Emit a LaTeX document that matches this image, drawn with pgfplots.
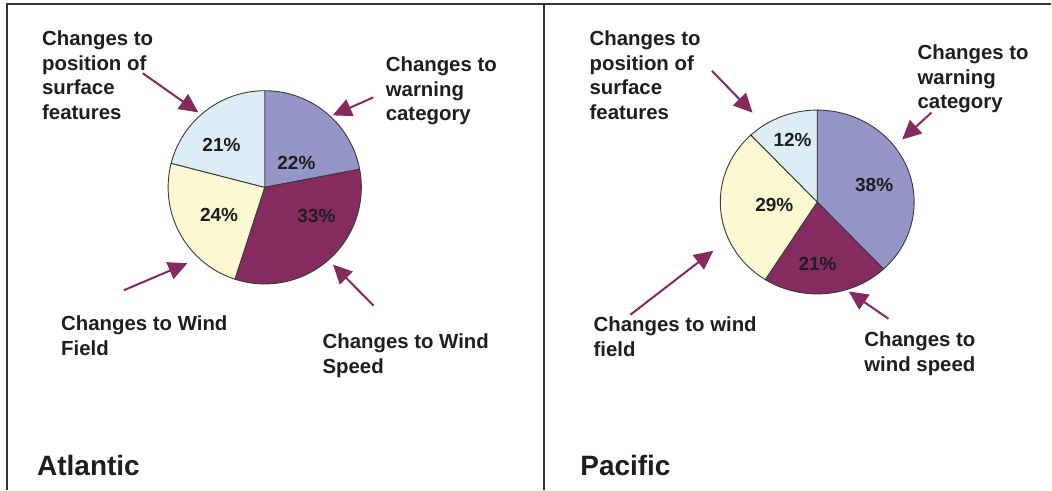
\documentclass[border=0pt]{standalone}
\usepackage{pgfplots}
\pgfplotsset{compat=1.18}
\usepackage{fontspec}
\setmainfont{Liberation Sans}
\usetikzlibrary{arrows.meta}
\definecolor{warn}{HTML}{9595C7}
\definecolor{speed}{HTML}{852B5F}
\definecolor{field}{HTML}{FBF8D2}
\definecolor{surf}{HTML}{DCEDF5}
\definecolor{arr}{HTML}{862A5E}
\definecolor{edge}{HTML}{3A3A3A}
\definecolor{txt}{HTML}{1E1E1E}
\definecolor{frame}{HTML}{333333}
% slice: cx cy rx ry from(%) to(%) colour  -- angles clockwise from 12 o'clock
\newcommand{\slice}[7]{%
  \addplot[fill=#7, draw=edge, line width=0.9pt, domain=3.6*#5:3.6*#6, samples=90, variable=\t]
    ({#1+#3*sin(\t)},{#2-#4*cos(\t)}) -- (axis cs:#1,#2) -- cycle;}
\newcommand{\lab}{\fontsize{20.4}{24.5}\selectfont\bfseries\color{txt}}
\newcommand{\pct}{\fontsize{19}{22}\selectfont\bfseries\color{txt}}
\newcommand{\ttl}{\fontsize{28}{32}\selectfont\bfseries\color{txt}}
\tikzset{arw/.style={draw=arr, line width=2pt, -{Triangle[length=19pt,width=18pt]}}}
\begin{document}
\begin{tikzpicture}
\begin{axis}[width=1052pt, height=490pt, scale only axis,
  xmin=0, xmax=1052, ymin=0, ymax=490, y dir=reverse,
  hide axis, clip=false]
\path (axis cs:0,0) rectangle (axis cs:1052,490);
% frame
\draw[frame, line width=2pt] (axis cs:7,490) -- (axis cs:7,4) -- (axis cs:1052,4);
\draw[frame, line width=2pt] (axis cs:545,4) -- (axis cs:545,490);
% ---------------- Atlantic: 22, 33, 24, 21 ----------------
\slice{265}{187.5}{96.7}{96.7}{0}{22}{warn}
\slice{265}{187.5}{96.7}{96.7}{22}{55}{speed}
\slice{265}{187.5}{96.7}{96.7}{55}{79}{field}
\slice{265}{187.5}{96.7}{96.7}{79}{100}{surf}
\node[font=\pct] at (axis cs:296.7,162.7) {22\%};
\node[font=\pct] at (axis cs:316.7,216) {33\%};
\node[font=\pct] at (axis cs:219.3,215) {24\%};
\node[font=\pct] at (axis cs:221.7,145) {21\%};
% ---------------- Pacific: 38, 21, 29, 12 ----------------
\slice{818}{202.2}{97}{92}{0}{38}{warn}
\slice{818}{202.2}{97}{92}{38}{59}{speed}
\slice{818}{202.2}{97}{92}{59}{88}{field}
\slice{818}{202.2}{97}{92}{88}{100}{surf}
\node[font=\pct] at (axis cs:875,185) {38\%};
\node[font=\pct] at (axis cs:818.3,264) {21\%};
\node[font=\pct] at (axis cs:775,205) {29\%};
\node[font=\pct] at (axis cs:793.3,140) {12\%};
% ---------------- arrows ----------------
\draw[arw] (axis cs:142.9,73.3) -- (axis cs:198.5,112.5);
\draw[arw] (axis cs:373.6,97.5) -- (axis cs:333,115.5);
\draw[arw] (axis cs:124,290.5) -- (axis cs:187.5,263.5);
\draw[arw] (axis cs:374,306) -- (axis cs:333.3,264.8);
\draw[arw] (axis cs:712.7,71) -- (axis cs:753.3,112.8);
\draw[arw] (axis cs:932.3,112.7) -- (axis cs:903,139.6);
\draw[arw] (axis cs:631,315) -- (axis cs:714,251);
\draw[arw] (axis cs:889.3,319) -- (axis cs:849.6,291.7);
% ---------------- labels: Atlantic ----------------
\node[anchor=base west, inner sep=0, font=\lab] at (axis cs:42,46) {Changes to};
\node[anchor=base west, inner sep=0, font=\lab] at (axis cs:42,70.5) {position of};
\node[anchor=base west, inner sep=0, font=\lab] at (axis cs:42,95) {surface};
\node[anchor=base west, inner sep=0, font=\lab] at (axis cs:42,119.5) {features};
\node[anchor=base west, inner sep=0, font=\lab] at (axis cs:386,72) {Changes to};
\node[anchor=base west, inner sep=0, font=\lab] at (axis cs:386,96.5) {warning};
\node[anchor=base west, inner sep=0, font=\lab] at (axis cs:386,121) {category};
\node[anchor=base west, inner sep=0, font=\lab] at (axis cs:61,331) {Changes to Wind};
\node[anchor=base west, inner sep=0, font=\lab] at (axis cs:61,355.5) {Field};
\node[anchor=base west, inner sep=0, font=\lab] at (axis cs:322.7,349) {Changes to Wind};
\node[anchor=base west, inner sep=0, font=\lab] at (axis cs:322.7,373.5) {Speed};
\node[anchor=base west, inner sep=0, font=\ttl] at (axis cs:37,476) {Atlantic};
% ---------------- labels: Pacific ----------------
\node[anchor=base west, inner sep=0, font=\lab] at (axis cs:590,46) {Changes to};
\node[anchor=base west, inner sep=0, font=\lab] at (axis cs:590,70.5) {position of};
\node[anchor=base west, inner sep=0, font=\lab] at (axis cs:590,95) {surface};
\node[anchor=base west, inner sep=0, font=\lab] at (axis cs:590,119.5) {features};
\node[anchor=base west, inner sep=0, font=\lab] at (axis cs:918.3,60) {Changes to};
\node[anchor=base west, inner sep=0, font=\lab] at (axis cs:918.3,84.5) {warning};
\node[anchor=base west, inner sep=0, font=\lab] at (axis cs:918.3,109) {category};
\node[anchor=base west, inner sep=0, font=\lab] at (axis cs:594,332) {Changes to wind};
\node[anchor=base west, inner sep=0, font=\lab] at (axis cs:594,356.5) {field};
\node[anchor=base west, inner sep=0, font=\lab] at (axis cs:865,347) {Changes to};
\node[anchor=base west, inner sep=0, font=\lab] at (axis cs:865,371.5) {wind speed};
\node[anchor=base west, inner sep=0, font=\ttl] at (axis cs:580.7,476) {Pacific};
\end{axis}
\end{tikzpicture}
\end{document}
